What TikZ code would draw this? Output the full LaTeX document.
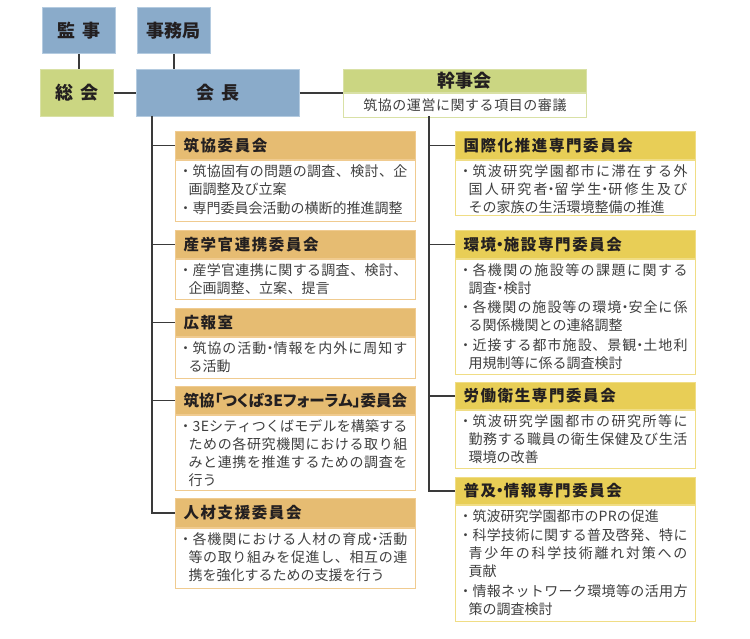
\documentclass[tikz,border=0pt]{standalone}
\usepackage{fontspec}
\setmainfont{Noto Sans CJK JP}
\newfontfamily\jp{Noto Sans CJK JP}
\newfontfamily\jpt{Noto Sans CJK JP}
\newfontfamily\jptp[RawFeature=+palt]{Noto Sans CJK JP}
\newfontfamily\jpd[LetterSpace=4]{Noto Sans CJK JP}
\XeTeXlinebreaklocale "ja"
\XeTeXlinebreakskip=0pt plus 4pt\relax
\newskip\titletrack
\titletrack=1.6pt\relax
\definecolor{bluef}{HTML}{8AABCA}
\definecolor{blued}{HTML}{B4CBE0}
\definecolor{greenf}{HTML}{CBD682}
\definecolor{greend}{HTML}{D9E1A6}
\definecolor{orangef}{HTML}{E6BC72}
\definecolor{oranged}{HTML}{F0CB90}
\definecolor{yellowf}{HTML}{E8CE56}
\definecolor{yellowd}{HTML}{F0DD85}
\definecolor{linec}{HTML}{3A3A3A}
\definecolor{desct}{HTML}{404040}
\definecolor{titlet}{HTML}{231F20}
\tikzset{
  topbox/.style={draw=blued, fill=bluef, line width=0.8pt, inner sep=0pt, anchor=north west,
    text=titlet, font=\jp\bfseries\fontsize{18}{20}\selectfont},
  greenbox/.style={topbox, draw=greend, fill=greenf},
  kband/.style={greenbox, minimum width=243, minimum height=23},
  ksub/.style={draw=greend, fill=white, line width=0.8pt, inner sep=0pt, anchor=north west,
    minimum width=243, minimum height=24, text=desct, font=\jpd\fontsize{14}{16}\selectfont},
  cband/.style={line width=1pt, inner xsep=8pt, inner ysep=0pt, text width=224pt, align=left,
    anchor=north west, text=titlet, font=\jpt\bfseries\fontsize{15.5}{18}\selectfont},
  cdesc/.style={fill=white, line width=1pt, inner sep=0pt, inner xsep=8pt, anchor=north west,
    text=desct, font=\jpd\fontsize{14}{18}\selectfont},
  oband/.style={cband, fill=orangef, draw=oranged},
  odesc/.style={cdesc, draw=oranged},
  yband/.style={cband, fill=yellowf, draw=yellowd},
  ydesc/.style={cdesc, draw=yellowd},
  conn/.style={draw=linec, line width=1.2pt}
}
\newcommand{\cmte}[8]{%
  \node[#6band, minimum height=#4] (#1) at (#2,#3) {\XeTeXlinebreakskip=\titletrack #7};
  \node[#6desc] (#1d) at (#1.south west) {\parbox[t][#5pt][t]{224pt}{\rule{0pt}{15.5pt}#8}};
}
\newcommand{\ind}{\hspace*{5pt}}
\newcommand{\nl}{\linebreak}
\newcommand{\nakaguro}{\makebox[0.5em][c]{・}}
\newcommand{\bul}{\makebox[9pt][l]{\hspace*{-5pt}・}}
\begin{document}
\begin{tikzpicture}[x=1pt,y=-1pt]
\useasboundingbox[fill=white] (0,0) rectangle (750,638);
% top
\node[topbox, minimum width=73, minimum height=46] (kanji) at (42,7) {監\hspace{7pt}事};
\node[topbox, minimum width=73, minimum height=46] (jimu) at (137,7) {事務局};
\node[greenbox, minimum width=73, minimum height=47] (soukai) at (40,69) {総\hspace{7pt}会};
\node[topbox, minimum width=163, minimum height=47] (kaicho) at (136,69) {会\hspace{7pt}長};
\node[kband] (kanjikai) at (343,69) {幹事会};
\node[ksub] (kanjisub) at (kanjikai.south west) {筑協の運営に関する項目の審議};
% left committees
\cmte{c1}{175}{131}{28}{61}{o}{筑協委員会}{%
\bul 筑協固有の問題の調査、検討、企\nl
\ind 画調整及び立案\\[1.5pt]
\bul 専門委員会活動の横断的推進調整}
\cmte{c2}{175}{230}{28}{40}{o}{産学官連携委員会}{%
\bul 産学官連携に関する調査、検討、\nl
\ind 企画調整、立案、提言}
\cmte{c3}{175}{308}{28}{41}{o}{広報室}{%
\bul 筑協の活動\nakaguro 情報を内外に周知す\nl
\ind る活動}
\cmte{c4}{175}{386}{28}{75}{o}{\jptp\bfseries\XeTeXlinebreakskip=0pt 筑協「つくば3Eフォーラム」委員会}{%
\bul 3Eシティつくばモデルを構築する\nl
\ind ための各研究機関における取り組\nl
\ind みと連携を推進するための調査を\nl
\ind 行う}
\cmte{c5}{175}{498}{29}{60}{o}{人材支援委員会}{%
\bul 各機関における人材の育成\nakaguro 活動\nl
\ind 等の取り組みを促進し、相互の連\nl
\ind 携を強化するための支援を行う}
% right committees
\cmte{d1}{455}{131}{28}{55}{y}{国際化推進専門委員会}{%
\bul 筑波研究学園都市に滞在する外\nl
\ind 国人研究者\nakaguro 留学生\nakaguro 研修生及び\nl
\ind その家族の生活環境整備の推進}
\cmte{d2}{455}{230}{28}{115}{y}{環境\nakaguro 施設専門委員会}{%
\bul 各機関の施設等の課題に関する\nl
\ind 調査\nakaguro 検討\\[1.5pt]
\bul 各機関の施設等の環境\nakaguro 安全に係\nl
\ind る関係機関との連絡調整\\[1.5pt]
\bul 近接する都市施設、景観\nakaguro 土地利\nl
\ind 用規制等に係る調査検討}
\cmte{d3}{455}{382}{27}{58}{y}{労働衛生専門委員会}{%
\bul 筑波研究学園都市の研究所等に\nl
\ind 勤務する職員の衛生保健及び生活\nl
\ind 環境の改善}
\cmte{d4}{455}{477}{27}{116}{y}{普及\nakaguro 情報専門委員会}{%
\bul 筑波研究学園都市のPRの促進\\[1.5pt]
\bul 科学技術に関する普及啓発、特に\nl
\ind 青少年の科学技術離れ対策への\nl
\ind 貢献\\[1.5pt]
\bul 情報ネットワーク環境等の活用方\nl
\ind 策の調査検討}
% connectors
\coordinate (lv) at (152,116);
\coordinate (rv) at (429,116);
\draw[conn] (kanji.south) -- (kanji.south |- soukai.north);
\draw[conn] (jimu.south) -- (jimu.south |- kaicho.north);
\draw[conn] (soukai.east) -- (kaicho.west);
\draw[conn] (kaicho.east) -- (kaicho.east -| kanjikai.west);
\draw[conn] (lv) -- (lv |- c5.west) -- (c5.west);
\foreach \c in {c1,c2,c3,c4} \draw[conn] (lv |- \c.west) -- (\c.west);
\draw[conn] (rv) -- (rv |- d4.west) -- (d4.west);
\foreach \c in {d1,d2,d3} \draw[conn] (rv |- \c.west) -- (\c.west);
\end{tikzpicture}
\end{document}
